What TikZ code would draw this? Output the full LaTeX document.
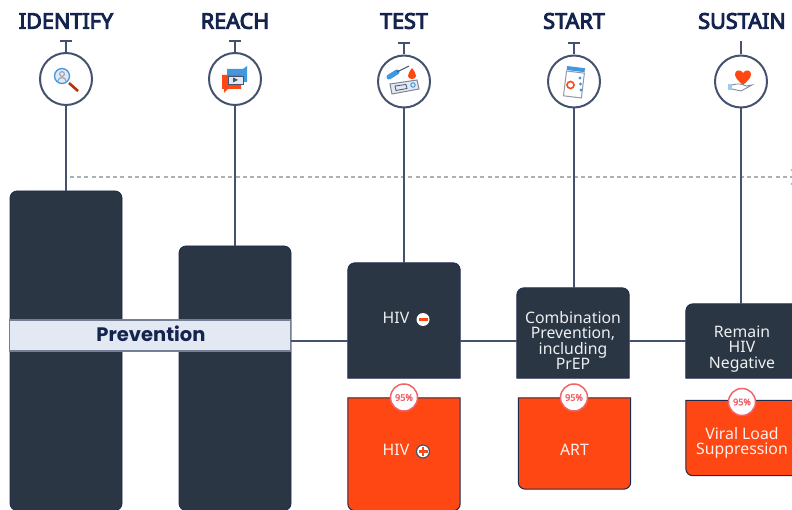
\documentclass[tikz,border=0pt]{standalone}
\usepackage{fontspec}
\setmainfont{Noto Sans}[AutoFakeBold=2.6]
\newfontfamily\bandfont{Poppins}
\newfontfamily\headfont{Noto Sans}[FakeBold=4.5]
\usetikzlibrary{positioning, arrows.meta, backgrounds}

\definecolor{navy}{HTML}{14244F}
\definecolor{stem}{HTML}{45526F}
\definecolor{slate}{HTML}{2A3644}
\definecolor{flame}{HTML}{FF4713}
\definecolor{mist}{HTML}{E3E9F2}
\definecolor{salmon}{HTML}{F0646A}
\definecolor{sky}{HTML}{3F98E0}
\definecolor{ash}{HTML}{8E99AB}
\definecolor{dashgray}{HTML}{ADB0B2}

\tikzset{
	heading/.style={text=navy, font=\headfont\fontsize{21.6}{21.6}\selectfont, inner sep=0pt},
	wheel/.style={circle, draw=stem, line width=2pt, fill=white, minimum size=52pt, inner sep=0pt},
	link/.style={draw=stem, line width=2.2pt},
	rail/.style={draw=stem, line width=1.6pt},
	bar/.style={draw=navy!70!slate, line width=.8pt, fill=slate, rounded corners=7pt, inner sep=0pt, minimum width=112pt},
	panel/.style={inner sep=0pt, minimum width=112pt},
	panellabel/.style={inner sep=0pt, align=center, font=\fontsize{15.8}{15.5}\selectfont},
	slatepanel/.style={draw=navy!70!slate, line width=.8pt, fill=slate},
	flamepanel/.style={draw=navy!70!slate, line width=1pt, fill=flame},
	badge/.style={circle, draw=salmon, line width=1.5pt, fill=white, minimum size=27pt, inner sep=0pt, text=salmon, font=\fontsize{9}{9}\selectfont\bfseries},
	sign/.style={circle, fill=white, inner sep=0pt, minimum size=13pt}
}

\begin{document}
\begin{tikzpicture}[x=1pt, y=-1pt]
	\useasboundingbox (0,0) rectangle (792,510);

	\node[heading] (IDENTIFY) 	at (66,21) 		{IDENTIFY};
	\node[heading] (REACH) 		at (235,21) 	{REACH};
	\node[heading] (TEST) 		at (404,21) 	{TEST};
	\node[heading] (START) 		at (574,21) 	{START};
	\node[heading] (SUSTAIN) 	at (742,21) 	{SUSTAIN};

	\coordinate (capidentify) 	at (66,40);
	\coordinate (capreach) 		at (235,40);
	\coordinate (captest) 		at (404,42);
	\coordinate (capstart) 		at (574,42);
	\coordinate (capsustain) 	at (741,41);

	\node[wheel] (identify) 	at (66,79) 		{};
	\node[wheel] (reach) 		at (235,79) 	{};
	\node[wheel] (test) 		at (404,81.5) 	{};
	\node[wheel] (start) 		at (574,81.5) 	{};
	\node[wheel] (sustain) 		at (741,81.5) 	{};

	\node[bar, minimum height=319.5pt] (identifybar) 	at (66,350.75) 	{};
	\node[bar, minimum height=264.5pt] (reachbar) 		at (235,378.25) {};

	\node[panel, minimum height=115pt] (testbox) 		at (404,320.5) 	{};
	\node[panel, minimum height=90pt] (startbox) 		at (573,333) 	{};
	\node[panel, minimum height=74pt] (sustainbox) 		at (742,341) 	{};
	\node[panel, minimum height=112.5pt] (testflame) 	at (404,454.25) {};
	\node[panel, minimum height=91pt] (startflame) 		at (574.5,443.5) {};
	\node[panel, minimum height=75pt] (sustainflame) 	at (742,438) 	{};

	\begin{scope}[on background layer]
		\path[slatepanel] (testbox.south west) [rounded corners=7pt] -- (testbox.north west) -- (testbox.north east) [sharp corners] -- (testbox.south east) -- cycle;
		\path[slatepanel] (startbox.south west) [rounded corners=7pt] -- (startbox.north west) -- (startbox.north east) [sharp corners] -- (startbox.south east) -- cycle;
		\path[slatepanel] (sustainbox.south west) [rounded corners=7pt] -- (sustainbox.north west) -- (sustainbox.north east) [sharp corners] -- (sustainbox.south east) -- cycle;
		\path[flamepanel] (testflame.north west) [rounded corners=7pt] -- (testflame.south west) -- (testflame.south east) [sharp corners] -- (testflame.north east) -- cycle;
		\path[flamepanel] (startflame.north west) [rounded corners=7pt] -- (startflame.south west) -- (startflame.south east) [sharp corners] -- (startflame.north east) -- cycle;
		\path[flamepanel] (sustainflame.north west) [rounded corners=7pt] -- (sustainflame.south west) -- (sustainflame.south east) [sharp corners] -- (sustainflame.north east) -- cycle;
	\end{scope}

	\coordinate (dashfrom) 	at (70,177);
	\coordinate (dashto) 	at (800,177);
	\draw[dashgray, line width=1.4pt, dash pattern=on 4pt off 3.2pt, -{Straight Barb[length=8pt, width=15pt]}] (dashfrom) -- (dashto);

	\draw[link, {Bar[width=12pt, line width=2pt]}-] (capidentify) -- (identify);
	\draw[link, {Bar[width=12pt, line width=2pt]}-] (capreach) -- (reach);
	\draw[link, {Bar[width=12pt, line width=2pt]}-] (captest) -- (test);
	\draw[link, {Bar[width=12pt, line width=2pt]}-] (capstart) -- (start);
	\draw[link] (capsustain) -- (sustain);

	\draw[link] (identify) -- (identifybar);
	\draw[link] (reach) -- (reachbar);
	\draw[link] (test) -- (testbox);
	\draw[link] (start) -- (start |- startbox.north);
	\draw[link] (sustain) -- (sustain |- sustainbox.north);

	\node[draw=stem!70!mist, line width=1.2pt, fill=mist, inner sep=0pt, minimum width=281pt, minimum height=31pt] (prevention) at (150,335.5) {};
	\node[text=navy, inner sep=0pt, font=\bandfont\fontsize{19.5}{19.5}\selectfont\bfseries] (preventionlabel) at (151,334) {Prevention};

	\coordinate (railprev) at (291,341);
	\draw[rail] (railprev) -- (railprev -| testbox.west);
	\draw[rail] (railprev -| testbox.east) -- (railprev -| startbox.west);
	\draw[rail] (railprev -| startbox.east) -- (railprev -| sustainbox.west);

	\node[panellabel, text=white!92!slate] (hivneg) 	at (396,318) 	{HIV};
	\node[sign] (minus) at (423,319.5) {};
	\draw[flame, line width=2.2pt] (418.5,319.5) -- (427.5,319.5);
	\node[panellabel, text=white!92!slate] (combination) 	at (573,340.5) 	{Combination\\Prevention,\\including\\PrEP};
	\node[panellabel, text=white!92!slate] (remain) 	at (742,349) 	{Remain\\HIV\\Negative};

	\node[panellabel, text=white!92!flame] (hivpos) 	at (396,450) 	{HIV};
	\node[sign, draw=stem, line width=1.2pt] (plus) at (423,451.5) {};
	\draw[flame, line width=2.2pt] (418.5,451.5) -- (427.5,451.5) (423,447) -- (423,456);
	\node[panellabel, text=white!92!flame] (art) 		at (574.5,450) 	{ART};
	\node[panellabel, text=white!92!flame] (viral) 		at (742,443) 	{Viral Load\\Suppression};

	\node[badge] (badgetest) 	at (404,397.5) 	{95\%};
	\node[badge] (badgestart) 	at (574,397.5) 	{95\%};
	\node[badge] (badgesustain) at (742,402) 	{95\%};

	\draw[sky, line width=1.3pt, fill=mist] (62,76) circle (7.5pt);
	\draw[ash, line width=1pt] (62,74) circle (2.4pt);
	\draw[ash, line width=1pt] (58,81) .. controls (58,76.5) and (66,76.5) .. (66,81);
	\draw[flame!70!black, line width=2.6pt] (69,83) -- (78,91);

	\fill[sky] (227,69) -- (243,69) -- (247,66) -- (247,82) -- (227,82) -- cycle;
	\fill[flame] (222,75) -- (241,75) -- (241,89) -- (228,89) -- (224,93) -- (224,89) -- (222,89) -- cycle;
	\draw[stem, line width=.9pt, fill=mist] (228,76) rectangle (243,84);
	\fill[stem] (233,77.5) -- (238,80) -- (233,82.5) -- cycle;

	\draw[sky, line width=5pt, line cap=round] (389,77) -- (397,72);
	\draw[stem, line width=1pt] (397,72) -- (409,66);
	\fill[flame] (412,68) .. controls (414,71) and (416,73) .. (416,76) .. controls (416,80) and (408,80) .. (408,76) .. controls (408,73) and (410,71) .. (412,68) -- cycle;
	\draw[stem!70, line width=1pt, fill=mist] (390,84) -- (417,80) -- (419,89) -- (392,94) -- cycle;
	\draw[stem, line width=.8pt] (395,86) -- (406,84.5) -- (407,88.5) -- (396,90.5) -- cycle;
	\draw[sky, line width=1pt] (413,85) circle (2.2pt);

	\draw[ash, line width=1pt, fill=white, rotate around={-7:(574,84)}] (565,72) rectangle (583,97);
	\fill[sky, rotate around={-7:(574,84)}] (565,67) rectangle (583,71);
	\draw[flame, line width=1.6pt, fill=white] (570.5,85) circle (3.5pt);
	\fill[sky] (580,78) circle (1.6pt) (580.5,84) circle (1.6pt) (581,90) circle (1.6pt);

	\fill[flame] (743,85) .. controls (737,80) and (735,77) .. (735,74) .. controls (735,70) and (741,69) .. (743,73) .. controls (745,69) and (751,70) .. (751,74) .. controls (751,77) and (749,80) .. (743,85) -- cycle;
	\fill[sky!50] (728,84) rectangle (732,90);
	\draw[stem!70, line width=.9pt] (732,85) .. controls (738,83) and (742,84) .. (746,86) -- (752,85) -- (741,91) -- (732,89);
\end{tikzpicture}
\end{document}
